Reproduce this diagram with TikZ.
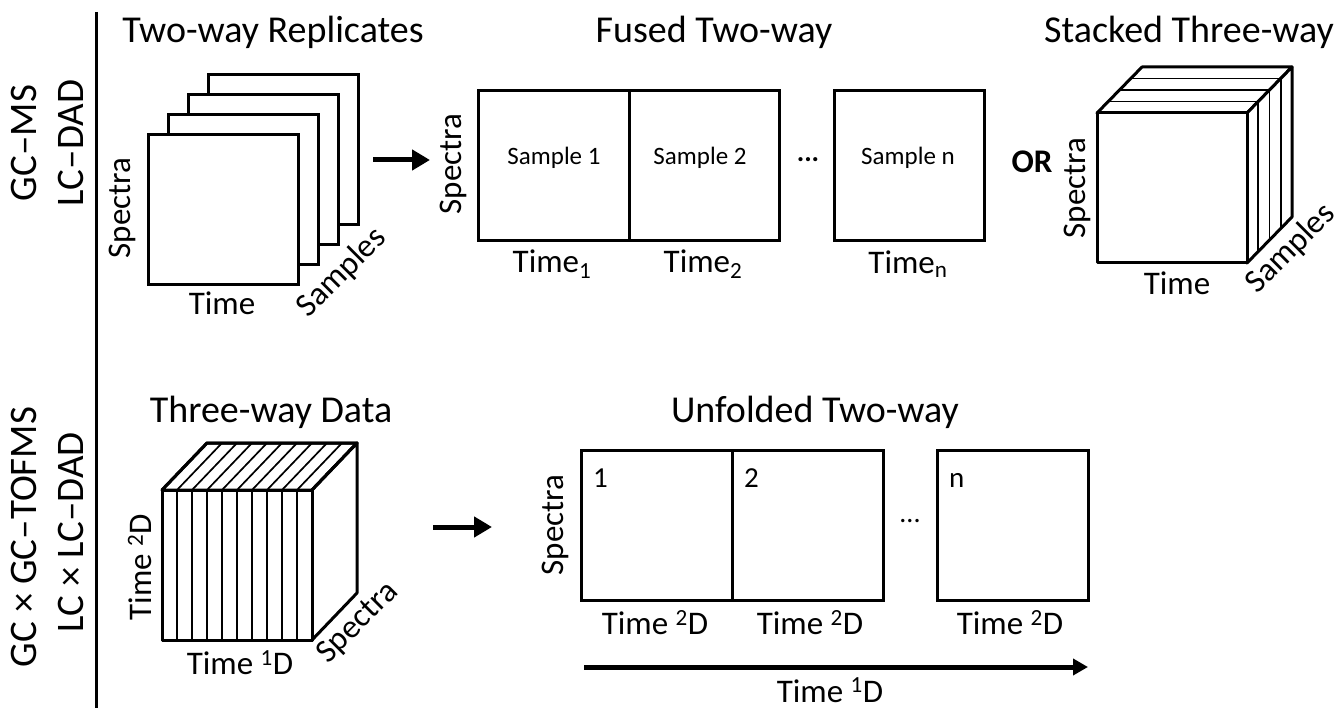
\documentclass[tikz,border=0pt]{standalone}
\usepackage{fontspec}
\setmainfont{Carlito}
\usetikzlibrary{arrows.meta,calc}
\begin{document}
\begin{tikzpicture}[x=1pt,y=-1pt,
  box/.style={draw, line width=3pt, fill=white, minimum width=150pt,
    minimum height=150pt, inner sep=0pt, anchor=north west},
  edge/.style={line width=3pt, line join=round},
  slice/.style={line width=1.7pt},
  title/.style={font=\fontsize{38}{40}\selectfont, anchor=base, inner sep=0pt},
  axis/.style={font=\fontsize{33}{35}\selectfont, inner sep=0pt},
  inbox/.style={font=\fontsize{25}{27}\selectfont, inner sep=0pt},
  idx/.style={font=\fontsize{29}{31}\selectfont, inner sep=0pt, anchor=base west},
  tech/.style={font=\fontsize{39}{42}\selectfont, rotate=90, inner sep=0pt},
  bigarrow/.style={line width=5pt, -{Triangle[length=18pt,width=20pt]}},
  longarrow/.style={line width=5pt, -{Triangle[length=15pt,width=16pt]}},
]
\useasboundingbox (0,0) rectangle (1341,708);

% separator between technique labels and diagrams
\coordinate (sepT) at (96,12);
\coordinate (sepB) at (96,708);
\draw[line width=3pt] (sepT) -- (sepB);

% technique labels
\node[tech] (gcms) at (24,143) {GC–MS};
\node[tech] (lcdad) at (71,143) {LC–DAD};
\node[tech] (gcgc) at (24,537) {GC × GC–TOFMS};
\node[tech] (lclc) at (71,532) {LC × LC–DAD};

% ---------- Two-way replicates ----------
\node[title] (tRep) at (273,43) {Two-way Replicates};
\node[box] (rep4) at (207,73) {};
\node[box] (rep3) at (187,93) {};
\node[box] (rep2) at (167,113) {};
\node[box] (rep1) at (147,133) {};
\node[axis, rotate=90] (repS) at (122,208) {Spectra};
\node[axis] (repT) at (222,303) {Time};
\node[axis, rotate=45] (repN) at (342,273) {Samples};

\coordinate (a1s) at (373,160);
\coordinate (a1e) at (430,160);
\draw[bigarrow] (a1s) -- (a1e);

% ---------- Fused two-way ----------
\node[title] (tFus) at (714,43) {Fused Two-way};
\node[box, minimum width=151pt] (fa) at (477,89) {};
\node[box, minimum width=150pt] (fb) at (628,89) {};
\node[box, minimum width=150pt] (fc) at (833,89) {};
\node[inbox] at (554,158) {Sample 1};
\node[inbox] at (700,158) {Sample 2};
\node[inbox] at (908,158) {Sample n};
\node[font=\fontsize{28}{30}\selectfont\bfseries, inner sep=0pt] (fdots) at (808,160) {...};
\node[axis, rotate=90] (fusS) at (453,164) {Spectra};
\node[axis] at (552,264) {Time\textsubscript{1}};
\node[axis] at (703,264) {Time\textsubscript{2}};
\node[axis] at (908,264) {Time\textsubscript{n}};

\node[font=\fontsize{33}{35}\selectfont\bfseries, inner sep=0pt] (or) at (1032,162) {OR};

% ---------- Stacked three-way ----------
\node[title] (tSt) at (1189,43) {Stacked Three-way};
\coordinate (sA) at (1097,113);
\coordinate (sB) at (1247,113);
\coordinate (sC) at (1247,263);
\coordinate (sD) at (1097,263);
\coordinate (sE) at (1142,67);
\coordinate (sF) at (1292,67);
\coordinate (sG) at (1292,217);
\draw[edge, fill=white] (sA) -- (sE) -- (sF) -- (sB) -- cycle;
\draw[edge, fill=white] (sB) -- (sF) -- (sG) -- (sC) -- cycle;
\foreach \k in {1,2,3} {
  \draw[slice] ($(sA)+(11.25*\k,-11.5*\k)$) -- ($(sB)+(11.25*\k,-11.5*\k)$)
               -- ($(sC)+(11.25*\k,-11.5*\k)$);
}
\draw[edge, fill=white] (sA) rectangle (sC);
\node[axis, rotate=90] at (1077,188) {Spectra};
\node[axis] at (1177,283) {Time};
\node[axis, rotate=45] at (1291,249) {Samples};

% ---------- Three-way data ----------
\node[title] (tThr) at (271,422) {Three-way Data};
\coordinate (cA) at (162,490);
\coordinate (cB) at (312,490);
\coordinate (cC) at (312,640);
\coordinate (cE) at (207,443);
\coordinate (cF) at (357,443);
\coordinate (cG) at (357,593);
\draw[edge, fill=white] (cA) -- (cE) -- (cF) -- (cB) -- cycle;
\draw[edge, fill=white] (cB) -- (cF) -- (cG) -- (cC) -- cycle;
\draw[edge, fill=white] (cA) rectangle (cC);
\foreach \k in {1,...,9} {
  \draw[slice] ($(cA)+(15*\k,150)$) -- ($(cA)+(15*\k,0)$) -- ($(cE)+(15*\k,0)$);
}
\draw[edge] (cA) rectangle (cC);
\draw[edge] (cA) -- (cE) -- (cF) -- (cB);
\node[axis, rotate=90] at (140,567) {Time \textsuperscript{2}D};
\node[axis] at (240,663) {Time \textsuperscript{1}D};
\node[axis, rotate=45] at (358,623) {Spectra};

\coordinate (a2s) at (433,527);
\coordinate (a2e) at (492,527);
\draw[bigarrow] (a2s) -- (a2e);

% ---------- Unfolded two-way ----------
\node[title] (tUnf) at (815,422) {Unfolded Two-way};
\node[box, minimum width=151pt] (ua) at (580,449) {};
\node[box, minimum width=151pt] (ub) at (731,449) {};
\node[box, minimum width=151pt] (uc) at (936,449) {};
\node[idx] at ([shift={(13,38)}]ua.north west) {1};
\node[idx] at ([shift={(13,38)}]ub.north west) {2};
\node[idx] at ([shift={(13,38)}]uc.north west) {n};
\node[font=\fontsize{28}{30}\selectfont, inner sep=0pt] (udots) at (910,521) {...};
\node[axis, rotate=90] at (555,525) {Spectra};
\node[axis] at (655,623) {Time \textsuperscript{2}D};
\node[axis] at (810,623) {Time \textsuperscript{2}D};
\node[axis] at (1010,623) {Time \textsuperscript{2}D};

\coordinate (a3s) at (584,667);
\coordinate (a3e) at (1088,667);
\draw[longarrow] (a3s) -- (a3e);
\node[axis, anchor=base] at (830,702) {Time \textsuperscript{1}D};
\end{tikzpicture}
\end{document}
